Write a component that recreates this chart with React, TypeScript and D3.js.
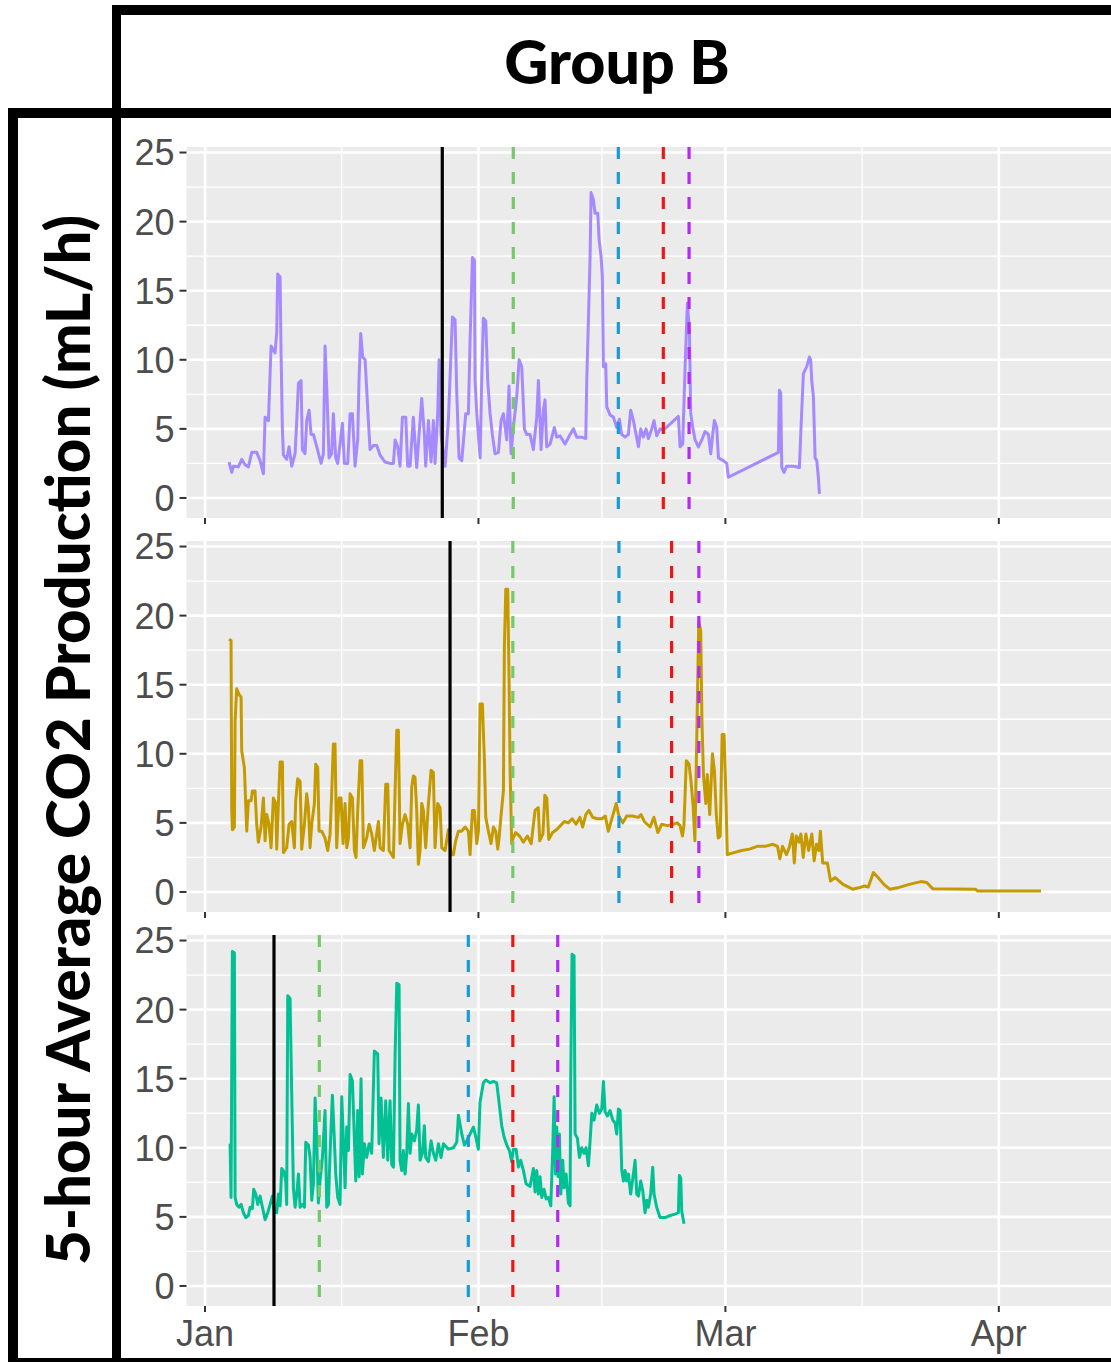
import React, { useEffect, useRef } from "react";
import * as d3 from "d3";

// each point: [days since 1 Jan 2021, 5-hour average CO2 (mL/h)]
type Pt = [number, number];

const purpleSeries: Pt[] = [
  [2.73, 2.6], [3.03, 1.85], [3.22, 2.3], [3.78, 2.25], [4.16, 2.8], [4.54, 2.4], [4.92, 2.25], [5.3, 3.3],
  [5.86, 3.3], [6.24, 2.7], [6.62, 1.75], [6.81, 5.85], [7.19, 5.6], [7.49, 11.0], [7.94, 10.5], [8.13, 12.0],
  [8.24, 16.2], [8.51, 16.0], [8.62, 10.5], [8.77, 5.0], [8.89, 3.1], [9.26, 2.8], [9.53, 3.7], [9.83, 2.3],
  [10.21, 3.2], [10.4, 5.6], [10.59, 8.3], [10.89, 8.5], [11.04, 3.5], [11.34, 3.2], [11.53, 5.6], [11.8, 6.35],
  [12.02, 4.6], [12.29, 4.6], [12.67, 3.7], [13.16, 2.5], [13.42, 3.2], [13.61, 11.0], [13.84, 7.3], [14.06, 2.9],
  [14.36, 3.2], [14.55, 6.1], [14.82, 2.9], [15.05, 2.5], [15.58, 5.4], [15.8, 2.5], [16.18, 2.5], [16.45, 6.1],
  [16.71, 6.1], [17.01, 2.3], [17.31, 4.2], [17.46, 8.5], [17.65, 11.9], [17.88, 10.2], [18.15, 10.0], [18.52, 5.6],
  [18.71, 3.5], [19.09, 3.8], [19.47, 3.8], [19.85, 3.1], [20.41, 2.6], [20.98, 2.5], [21.36, 2.5], [21.55, 4.2],
  [21.85, 3.7], [22.11, 2.3], [22.38, 5.85], [22.76, 5.85], [22.98, 2.3], [23.25, 2.3], [23.62, 5.85], [24.0, 2.2],
  [24.27, 4.6], [24.57, 7.2], [24.87, 4.6], [25.02, 2.3], [25.33, 5.6], [25.63, 2.6], [25.89, 5.6], [26.08, 2.5],
  [26.38, 6.1], [26.54, 10.0], [26.76, 4.6], [27.22, 2.3], [27.59, 5.6], [27.9, 10.7], [28.05, 13.1], [28.35, 12.9],
  [28.54, 7.6], [28.8, 2.9], [29.11, 2.7], [29.56, 6.1], [29.86, 6.1], [30.05, 11.4], [30.32, 17.4], [30.54, 17.2],
  [30.62, 8.5], [30.81, 6.1], [31.19, 2.9], [31.37, 8.5], [31.56, 13.0], [31.83, 12.8], [32.05, 8.5], [32.32, 6.1],
  [32.58, 4.6], [32.88, 3.2], [33.26, 3.3], [33.57, 5.6], [33.83, 6.1], [34.21, 4.2], [34.47, 8.1], [34.7, 3.2],
  [34.96, 5.1], [35.34, 7.3], [35.61, 10.0], [35.91, 9.5], [36.21, 5.0], [36.47, 4.6], [36.85, 4.6], [37.23, 3.5],
  [37.61, 5.85], [37.8, 8.5], [38.1, 3.5], [38.36, 6.35], [38.55, 7.1], [38.74, 3.7], [39.12, 3.9], [39.61, 5.1],
  [39.88, 4.4], [40.25, 4.5], [40.82, 3.9], [41.39, 4.6], [41.77, 5.0], [42.14, 4.4], [42.71, 4.4], [43.17, 4.3],
  [43.28, 8.5], [43.47, 12.9], [43.66, 17.5], [43.77, 22.1], [44.03, 21.6], [44.22, 20.6], [44.53, 20.6], [44.68, 18.7],
  [44.9, 17.5], [45.05, 16.0], [45.17, 9.5], [45.43, 9.7], [45.55, 6.6], [45.92, 6.0], [46.3, 5.85], [46.68, 5.1],
  [46.98, 5.7], [47.24, 4.6], [47.62, 4.4], [48.0, 4.6], [48.26, 6.35], [48.57, 5.6], [48.87, 4.6], [49.14, 3.7],
  [49.4, 5.0], [49.7, 4.4], [50.0, 5.0], [50.27, 4.3], [50.65, 5.0], [50.91, 5.6], [51.21, 4.5], [51.59, 5.0],
  [51.97, 4.9], [53.67, 5.9], [53.86, 3.7], [54.16, 3.9], [54.43, 9.5], [54.69, 14.1], [54.92, 12.1], [55.07, 6.1],
  [55.3, 5.1], [55.56, 4.2], [55.94, 3.7], [56.32, 4.2], [56.69, 4.8], [57.07, 4.6], [57.34, 3.2], [57.56, 4.6],
  [57.75, 5.6], [58.02, 5.1], [58.21, 2.9], [58.77, 2.7], [59.15, 2.5], [59.34, 1.5], [65.01, 3.3], [65.12, 7.8],
  [65.27, 7.6], [65.39, 2.2], [65.65, 1.85], [65.95, 2.3], [66.71, 2.3], [67.39, 2.2], [67.54, 4.6], [67.84, 9.0],
  [68.22, 9.5], [68.52, 10.2], [68.67, 10.0], [68.79, 8.5], [68.98, 7.3], [69.17, 2.9], [69.36, 2.7], [69.54, 1.5],
  [69.66, 0.3],
];

const goldSeries: Pt[] = [
  [2.73, 18.3], [2.95, 18.2], [3.03, 6.0], [3.1, 4.5], [3.33, 4.7], [3.41, 12.4], [3.59, 14.7], [3.86, 14.3],
  [4.09, 14.1], [4.16, 10.2], [4.46, 9.0], [4.73, 4.4], [4.92, 6.6], [5.22, 6.6], [5.37, 7.3], [5.67, 7.3],
  [5.86, 4.9], [6.05, 3.6], [6.35, 4.7], [6.62, 6.8], [6.81, 3.7], [7.0, 5.6], [7.26, 4.9], [7.49, 3.2],
  [7.75, 6.8], [8.02, 6.4], [8.13, 3.1], [8.32, 6.4], [8.51, 9.4], [8.77, 9.4], [8.89, 2.85], [9.26, 3.2],
  [9.53, 4.9], [9.83, 5.1], [10.13, 3.2], [10.28, 6.6], [10.51, 8.2], [10.78, 8.0], [10.96, 3.1], [11.27, 4.9],
  [11.53, 7.1], [11.72, 6.1], [11.91, 3.2], [12.1, 4.9], [12.4, 6.4], [12.55, 9.25], [12.78, 9.0], [12.93, 4.4],
  [13.23, 4.4], [13.61, 3.9], [13.91, 3.0], [14.18, 4.2], [14.37, 7.3], [14.55, 10.7], [14.74, 10.7], [14.93, 3.2],
  [15.2, 6.8], [15.42, 6.8], [15.65, 3.5], [15.88, 6.4], [16.07, 3.2], [16.26, 3.9], [16.45, 7.1], [16.71, 6.8],
  [16.94, 3.0], [17.12, 2.5], [17.31, 5.9], [17.58, 9.5], [17.77, 9.5], [17.96, 3.2], [18.33, 3.9], [18.6, 4.9],
  [18.9, 4.2], [19.2, 3.0], [19.66, 5.1], [19.85, 3.2], [20.22, 3.0], [20.49, 7.8], [20.72, 7.8], [20.87, 3.0],
  [21.17, 2.7], [21.36, 2.5], [21.55, 7.3], [21.74, 11.7], [21.92, 11.7], [22.11, 3.5], [22.38, 4.9], [22.68, 5.6],
  [22.98, 4.9], [23.25, 3.2], [23.44, 7.6], [23.62, 8.4], [23.81, 8.3], [24.0, 5.9], [24.19, 2.0], [24.38, 3.0],
  [24.57, 6.4], [24.76, 5.9], [25.02, 3.2], [25.33, 6.4], [25.63, 8.8], [25.89, 8.65], [26.08, 3.2], [26.38, 6.4],
  [26.65, 6.1], [26.84, 3.2], [27.22, 3.0], [27.59, 4.5], [27.9, 2.7], [28.16, 2.7], [28.42, 3.7], [28.73, 4.4],
  [29.11, 4.4], [29.48, 4.7], [29.86, 4.4], [30.05, 2.7], [30.32, 5.9], [30.54, 5.9], [30.81, 3.5], [31.0, 4.4],
  [31.18, 13.6], [31.45, 13.6], [31.68, 9.5], [31.83, 5.4], [32.13, 4.4], [32.43, 3.5], [32.7, 4.7], [32.96, 4.4],
  [33.19, 3.1], [33.34, 3.9], [33.57, 5.6], [33.83, 7.3], [33.94, 17.7], [34.1, 21.9], [34.32, 21.9], [34.47, 15.5],
  [34.59, 8.8], [34.77, 3.5], [34.82, 3.7], [35.21, 4.3], [35.66, 4.05], [36.1, 3.6], [36.54, 4.05], [36.98, 3.5],
  [37.42, 5.9], [37.78, 6.1], [37.95, 3.7], [38.31, 4.2], [38.53, 7.0], [38.75, 6.8], [38.97, 3.8], [39.41, 4.3],
  [39.85, 4.5], [40.3, 4.8], [40.74, 5.1], [41.18, 5.0], [41.62, 5.3], [42.06, 4.9], [42.51, 5.4], [42.81, 4.7],
  [43.17, 5.6], [43.52, 5.9], [43.96, 5.4], [44.49, 5.3], [45.02, 5.3], [45.38, 5.5], [45.73, 4.4], [46.17, 5.4],
  [46.62, 6.4], [46.92, 5.5], [47.37, 5.0], [47.81, 5.5], [48.47, 5.5], [49.13, 5.4], [49.44, 5.6], [49.8, 5.1],
  [50.46, 4.7], [50.9, 5.4], [51.34, 4.3], [51.78, 4.9], [52.45, 4.8], [53.11, 4.9], [53.55, 5.0], [53.86, 4.8],
  [54.13, 4.05], [54.3, 4.8], [54.57, 9.5], [54.88, 9.25], [55.1, 8.0], [55.32, 6.4], [55.54, 3.7], [55.76, 11.4],
  [55.98, 19.6], [56.2, 18.9], [56.34, 12.4], [56.51, 8.5], [56.78, 6.4], [56.95, 8.5], [57.22, 5.6], [57.53, 10.0],
  [57.75, 8.8], [57.97, 5.6], [58.19, 3.9], [58.41, 4.05], [58.63, 11.4], [58.85, 11.4], [59.07, 6.6], [59.21, 2.7],
  [59.96, 2.85], [60.84, 3.0], [61.73, 3.1], [62.61, 3.3], [63.49, 3.3], [64.38, 3.45], [64.91, 3.3], [65.17, 2.4],
  [65.48, 3.3], [65.92, 2.7], [66.23, 3.2], [66.59, 4.2], [66.81, 2.1], [67.03, 4.05], [67.34, 3.6], [67.56, 4.2],
  [67.82, 2.5], [68.13, 4.2], [68.44, 3.0], [68.8, 4.2], [69.06, 2.25], [69.33, 3.45], [69.59, 3.0], [69.77, 4.4],
  [70.03, 2.1], [70.56, 2.1], [70.92, 0.8], [71.45, 1.04], [72.33, 0.55], [73.43, 0.2], [74.1, 0.3], [74.76, 0.43],
  [75.2, 0.36], [75.78, 1.4], [76.31, 1.04], [76.97, 0.55], [77.63, 0.2], [78.52, 0.3], [79.84, 0.55], [81.17, 0.75],
  [81.83, 0.68], [82.49, 0.24], [87.35, 0.2], [87.57, 0.07], [94.78, 0.07],
];

const tealSeries: Pt[] = [
  [2.84, 10.3], [2.95, 6.4], [3.1, 24.2], [3.33, 24.1], [3.41, 6.4], [3.59, 5.9], [3.86, 5.7], [4.09, 5.9],
  [4.35, 5.3], [4.62, 4.95], [4.92, 5.1], [5.11, 5.7], [5.37, 5.6], [5.52, 7.0], [5.75, 6.65], [5.98, 5.9],
  [6.24, 6.5], [6.51, 5.7], [6.81, 4.8], [7.11, 5.3], [7.38, 5.9], [7.64, 6.5], [7.86, 5.4], [8.13, 5.3],
  [8.32, 6.65], [8.51, 5.8], [8.7, 8.5], [8.92, 8.3], [9.15, 7.6], [9.26, 5.9], [9.38, 21.0], [9.64, 20.8],
  [9.83, 13.9], [10.02, 7.1], [10.21, 5.7], [10.4, 6.65], [10.59, 8.1], [10.78, 5.7], [11.04, 5.9], [11.27, 5.7],
  [11.42, 10.4], [11.72, 10.2], [11.91, 9.3], [12.1, 6.2], [12.29, 7.4], [12.48, 13.6], [12.67, 10.5], [12.85, 6.0],
  [13.04, 7.6], [13.31, 9.3], [13.61, 12.7], [13.8, 5.7], [13.99, 5.9], [14.18, 9.6], [14.44, 13.8], [14.67, 10.5],
  [14.82, 8.1], [15.05, 6.4], [15.31, 5.9], [15.5, 13.7], [15.69, 10.5], [15.88, 7.1], [16.07, 11.5], [16.26, 9.8],
  [16.45, 15.3], [16.71, 14.85], [16.94, 10.5], [17.09, 7.6], [17.31, 12.7], [17.47, 7.9], [17.69, 15.0], [17.84, 8.1],
  [18.07, 10.3], [18.33, 9.3], [18.6, 10.3], [18.9, 9.6], [19.2, 17.0], [19.58, 16.8], [19.73, 10.3], [19.96, 13.6],
  [20.22, 9.3], [20.49, 13.4], [20.72, 9.1], [20.98, 13.4], [21.17, 8.8], [21.36, 8.6], [21.55, 16.7], [21.74, 21.9],
  [22.0, 21.8], [22.11, 9.1], [22.3, 8.35], [22.49, 9.8], [22.68, 8.1], [22.87, 9.6], [23.06, 13.2], [23.25, 9.6],
  [23.44, 11.0], [23.74, 10.5], [24.0, 11.3], [24.19, 13.1], [24.38, 9.1], [24.65, 9.6], [24.87, 11.6], [25.02, 9.3],
  [25.33, 9.0], [25.63, 10.5], [25.89, 9.6], [26.16, 9.1], [26.46, 10.3], [26.76, 9.3], [27.03, 10.3], [27.59, 9.9],
  [28.16, 10.0], [28.54, 10.4], [28.73, 12.35], [29.11, 11.0], [29.41, 10.2], [29.67, 10.5], [30.05, 11.0], [30.43, 11.5],
  [30.69, 10.8], [30.99, 9.9], [31.18, 13.3], [31.56, 14.7], [31.83, 14.9], [32.32, 14.7], [32.7, 14.8], [33.07, 14.7],
  [33.26, 13.7], [33.64, 11.6], [33.9, 10.8], [34.21, 10.2], [34.51, 9.8], [34.77, 9.0], [34.96, 9.9], [35.27, 9.9],
  [35.53, 8.6], [35.79, 9.1], [36.1, 8.35], [36.4, 7.4], [36.85, 7.2], [37.23, 8.5], [37.42, 6.8], [37.61, 8.35],
  [37.8, 6.65], [37.99, 7.9], [38.18, 6.4], [38.44, 7.0], [38.67, 6.3], [38.93, 6.4], [39.2, 5.8], [39.42, 9.8],
  [39.58, 13.7], [39.73, 8.1], [39.88, 11.5], [40.03, 7.9], [40.18, 11.0], [40.33, 6.65], [40.56, 9.1], [40.71, 7.1],
  [40.94, 8.1], [41.2, 6.0], [41.39, 5.8], [41.46, 14.7], [41.61, 24.0], [41.84, 23.9], [41.96, 11.0], [42.22, 10.7],
  [42.45, 9.3], [42.71, 10.0], [42.98, 9.6], [43.2, 10.0], [43.47, 8.7], [43.66, 10.5], [43.85, 12.5], [44.11, 12.0],
  [44.41, 13.1], [44.71, 12.5], [44.98, 12.8], [45.17, 14.8], [45.36, 12.6], [45.62, 12.3], [45.92, 12.7], [46.23, 12.0],
  [46.49, 11.8], [46.68, 11.0], [46.87, 12.8], [47.06, 12.7], [47.25, 8.35], [47.44, 7.6], [47.62, 8.35], [47.81, 7.6],
  [48.0, 8.1], [48.26, 6.65], [48.57, 8.1], [48.76, 9.1], [48.95, 6.65], [49.14, 6.5], [49.4, 7.6], [49.63, 6.9],
  [49.89, 5.3], [50.08, 6.2], [50.27, 5.7], [50.53, 6.65], [50.76, 8.6], [50.91, 6.65], [51.21, 5.7], [51.59, 4.95],
  [52.16, 4.95], [52.73, 5.1], [53.29, 5.2], [53.67, 5.3], [53.78, 8.0], [53.94, 7.8], [54.05, 5.4], [54.31, 4.5],
];

// event markers (days since 1 Jan 2021), same order as eventColors
const eventColors = ["#000000", "#74C969", "#1A9AD6", "#F01515", "#B42AF5"];
const purpleEvents = [26.9, 34.95, 46.86, 51.96, 54.88];
const goldEvents = [27.78, 34.9, 46.93, 52.9, 55.99];
const tealEvents = [7.82, 12.96, 29.85, 34.9, 39.99];

const yTicks = [0, 5, 10, 15, 20, 25];
const groupTitle = "Group B";
const yTitle = "5-hour Average CO2 Production (mL/h)";

const W = 1111;
const H = 1362;

export default function App() {
  const svgRef = useRef<SVGSVGElement>(null);

  useEffect(() => {
    if (!svgRef.current) return;
    const svg = d3.select(svgRef.current);
    svg.selectAll("*").remove();

    const t0 = new Date(2021, 0, 1).getTime();
    const toDate = (d: number) => new Date(t0 + d * 864e5);
    const pxPerDay = 8.82;
    const panelLeft = 186.5;
    const x = d3
      .scaleTime()
      .domain([toDate(-2.1), toDate(106)])
      .range([panelLeft, panelLeft + 108.1 * pxPerDay]);
    const panelRight = W + 10;

    const majorX = x.ticks(d3.timeMonth.every(1)!);
    const minorX = majorX.slice(1).map((d, i) => new Date((d.getTime() + majorX[i].getTime()) / 2));

    const panelH = 371;
    const panels = [
      { data: purpleSeries, color: "#A58AFF", events: purpleEvents, top: 147 },
      { data: goldSeries, color: "#C49A00", events: goldEvents, top: 541 },
      { data: tealSeries, color: "#00C094", events: tealEvents, top: 935 },
    ];

    const tickFont = "'Liberation Sans', Arial, sans-serif";

    panels.forEach((p, pi) => {
      const y = d3.scaleLinear().domain([-1.45, 25.4]).range([p.top + panelH, p.top]);
      const g = svg.append("g");

      g.append("rect")
        .attr("x", panelLeft)
        .attr("y", p.top)
        .attr("width", panelRight - panelLeft)
        .attr("height", panelH)
        .attr("fill", "#EBEBEB");

      // minor grid
      const minorY = yTicks.slice(0, -1).map(v => v + 2.5);
      g.selectAll(".ymin")
        .data(minorY)
        .enter()
        .append("line")
        .attr("x1", panelLeft).attr("x2", panelRight)
        .attr("y1", d => y(d)).attr("y2", d => y(d))
        .attr("stroke", "#fff").attr("stroke-width", 1.3);
      g.selectAll(".xmin")
        .data(minorX)
        .enter()
        .append("line")
        .attr("x1", d => x(d)).attr("x2", d => x(d))
        .attr("y1", p.top).attr("y2", p.top + panelH)
        .attr("stroke", "#fff").attr("stroke-width", 1.3);

      // major grid
      g.selectAll(".ymaj")
        .data(yTicks)
        .enter()
        .append("line")
        .attr("x1", panelLeft).attr("x2", panelRight)
        .attr("y1", d => y(d)).attr("y2", d => y(d))
        .attr("stroke", "#fff").attr("stroke-width", 2.6);
      g.selectAll(".xmaj")
        .data(majorX)
        .enter()
        .append("line")
        .attr("x1", d => x(d)).attr("x2", d => x(d))
        .attr("y1", p.top).attr("y2", p.top + panelH)
        .attr("stroke", "#fff").attr("stroke-width", 2.6);

      // series
      const line = d3
        .line<Pt>()
        .x(d => x(toDate(d[0])))
        .y(d => y(d[1]));
      g.append("path")
        .datum(p.data)
        .attr("fill", "none")
        .attr("stroke", p.color)
        .attr("stroke-width", 3)
        .attr("stroke-linejoin", "round")
        .attr("d", line);

      // event lines
      g.selectAll(".evt")
        .data(p.events)
        .enter()
        .append("line")
        .attr("x1", d => x(toDate(d))).attr("x2", d => x(toDate(d)))
        .attr("y1", p.top).attr("y2", p.top + panelH)
        .attr("stroke", (_d, i) => eventColors[i])
        .attr("stroke-width", 3.2)
        .attr("stroke-dasharray", (_d, i) => (i === 0 ? null : "12 13"));

      // y axis ticks + labels
      g.selectAll(".ytick")
        .data(yTicks)
        .enter()
        .append("line")
        .attr("x1", panelLeft - 7).attr("x2", panelLeft)
        .attr("y1", d => y(d)).attr("y2", d => y(d))
        .attr("stroke", "#333").attr("stroke-width", 2);
      g.selectAll(".ylab")
        .data(yTicks)
        .enter()
        .append("text")
        .attr("x", panelLeft - 12)
        .attr("y", d => y(d))
        .attr("dy", "0.36em")
        .attr("text-anchor", "end")
        .attr("font-family", tickFont)
        .attr("font-size", 36)
        .attr("fill", "#4D4D4D")
        .text(d => d);

      // x ticks under every panel
      g.selectAll(".xtick")
        .data(majorX)
        .enter()
        .append("line")
        .attr("x1", d => x(d)).attr("x2", d => x(d))
        .attr("y1", p.top + panelH).attr("y2", p.top + panelH + 6)
        .attr("stroke", "#333").attr("stroke-width", 2);

      if (pi === panels.length - 1) {
        g.selectAll(".xlab")
          .data(majorX)
          .enter()
          .append("text")
          .attr("x", d => x(d))
          .attr("y", p.top + panelH + 40)
          .attr("text-anchor", "middle")
          .attr("font-family", tickFont)
          .attr("font-size", 36)
          .attr("fill", "#4D4D4D")
          .text(d => d3.timeFormat("%b")(d));
      }
    });

    // frame boxes
    const frame = svg.append("g").attr("fill", "#000");
    frame.append("rect").attr("x", 112).attr("y", 5).attr("width", W).attr("height", 10);
    frame.append("rect").attr("x", 112).attr("y", 5).attr("width", 9).attr("height", H);
    frame.append("rect").attr("x", 8).attr("y", 108).attr("width", W).attr("height", 10);
    frame.append("rect").attr("x", 8).attr("y", 108).attr("width", 10).attr("height", H);
    frame.append("rect").attr("x", 8).attr("y", 1358).attr("width", W).attr("height", 4);

    svg.append("text")
      .attr("x", 617)
      .attr("y", 84)
      .attr("text-anchor", "middle")
      .attr("font-family", "Lato, 'Open Sans', sans-serif")
      .attr("font-weight", 900)
      .attr("font-size", 61)
      .attr("fill", "#000")
      .text(groupTitle);

    svg.append("text")
      .attr("transform", "translate(90,740) rotate(-90)")
      .attr("text-anchor", "middle")
      .attr("font-family", "Lato, 'Open Sans', sans-serif")
      .attr("font-weight", 900)
      .attr("font-size", 60)
      .attr("textLength", 1050)
      .attr("lengthAdjust", "spacingAndGlyphs")
      .attr("fill", "#000")
      .text(yTitle);
  }, []);

  return (
    <div>
      <style>{"body{margin:0}"}</style>
      <svg ref={svgRef} width={W} height={H} style={{ display: "block", background: "#fff" }} />
    </div>
  );
}
